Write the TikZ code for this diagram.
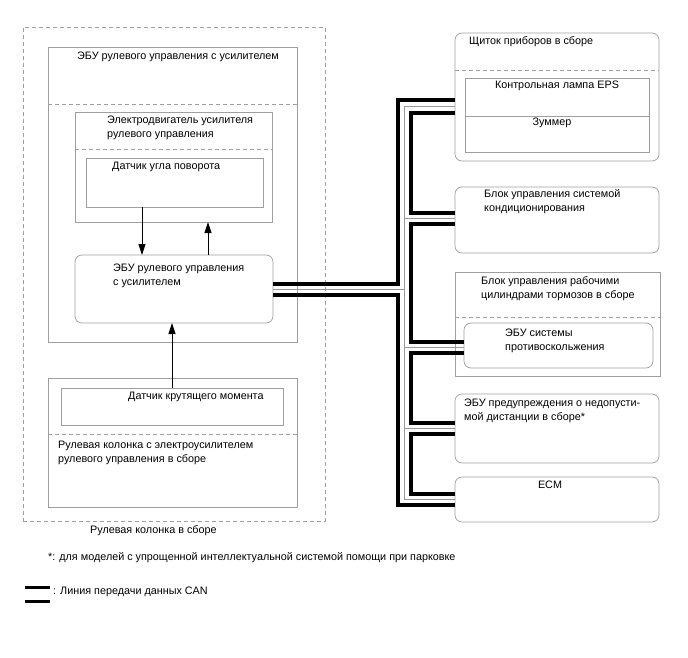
\documentclass[tikz,border=0pt]{standalone}
\usepackage{fontspec}
\setmainfont{Liberation Sans}
\usepackage{xcolor}
\usepackage{tikz}
\usetikzlibrary{arrows.meta, positioning}
\tikzset{
  frame/.style={draw=gray!75, line width=0.7pt, inner sep=0pt, outer sep=0pt, anchor=north west},
  roundframe/.style={frame, rounded corners=7pt},
  groupframe/.style={frame, dashed, dash pattern=on 4pt off 3pt},
  sepline/.style={draw=gray!75, line width=0.7pt, dashed, dash pattern=on 4pt off 3pt},
  txt/.style={font=\fontsize{10.8}{14}\selectfont, inner sep=0pt, align=left, anchor=north west},
  sigarrow/.style={-{Triangle[length=11pt, width=7pt]}, line width=0.9pt, black},
  canline/.style={line width=3.6pt, black, line join=miter},
  canmid/.style={line width=0.5pt, gray!80}
}

\begin{document}
\begin{tikzpicture}[x=1pt, y=-1pt]

\useasboundingbox (0,0) rectangle (688,658);

% --- Bus columns ---
\def\xa{398}
\def\xm{404.5}
\def\xb{411}

% --- Steering column assembly (left) ---
\node[groupframe, minimum width=302pt, minimum height=494pt] (column) at (23,27) {};
\node[txt] (columntxt) at (90,525) {Рулевая колонка в сборе};

% power steering ECU group
\node[frame, minimum width=249pt, minimum height=295pt] (ecubox) at (48,47) {};
\draw[sepline] (ecubox.west |- 0,104) -- (ecubox.east |- 0,104);
\node[txt] (ecuboxtxt) at (77,52) {ЭБУ рулевого управления с усилителем};

\node[frame, minimum width=197pt, minimum height=110pt] (motor) at (75,112) {};
\draw[sepline] (motor.west |- 0,149) -- (motor.east |- 0,149);
\node[txt] (motortxt) at (107,116) {Электродвигатель усилителя\\рулевого управления};

\node[frame, minimum width=177pt, minimum height=49pt] (angle) at (86,158) {};
\node[txt] (angletxt) at (112,162) {Датчик угла поворота};

\node[roundframe, minimum width=198pt, minimum height=68pt] (ecu) at (75,255) {};
\node[txt] (ecutxt) at (113,264) {ЭБУ рулевого управления\\с усилителем};

% column with EPS
\node[frame, minimum width=249pt, minimum height=129pt] (colbox) at (48,378) {};
\draw[sepline] (colbox.west |- 0,434) -- (colbox.east |- 0,434);
\node[txt] (colboxtxt) at (58,441) {Рулевая колонка с электроусилителем\\рулевого управления в сборе};

\node[frame, minimum width=222pt, minimum height=37pt] (torque) at (61,388) {};
\node[txt] (torquetxt) at (128,392) {Датчик крутящего момента};

% --- Signal arrows ---
\draw[sigarrow] ([xshift=-32.5pt]angle.south) -- ([xshift=-32.5pt]angle.south |- ecu.north);
\draw[sigarrow] ([xshift=34pt]ecu.north) -- ([xshift=34pt]ecu.north |- motor.south);
\draw[sigarrow] (torque.north) -- (torque.north |- ecu.south);

% --- CAN nodes (right) ---
\node[roundframe, minimum width=204pt, minimum height=128pt] (cluster) at (455,33) {};
\draw[sepline] (cluster.west |- 0,70) -- (cluster.east |- 0,70);
\node[txt] (clustertxt) at (469,36) {Щиток приборов в сборе};
\node[frame, minimum width=184pt, minimum height=74pt] (lamp) at (465,78) {};
\draw[draw=gray!75, line width=0.7pt] (lamp.west |- 0,116) -- (lamp.east |- 0,116);
\node[txt, anchor=north] (lamptxt) at (557,81) {Контрольная лампа EPS};
\node[txt, anchor=north] (buzzertxt) at (552,118) {Зуммер};

\node[roundframe, minimum width=204pt, minimum height=66pt] (ac) at (455,187) {};
\node[txt] (actxt) at (484,189) {Блок управления системой\\кондиционирования};

\node[frame, minimum width=205pt, minimum height=104pt] (brake) at (455,272) {};
\draw[sepline] (brake.west |- 0,317) -- (brake.east |- 0,317);
\node[txt] (braketxt) at (481,276) {Блок управления рабочими\\цилиндрами тормозов в сборе};
\node[roundframe, minimum width=189pt, minimum height=45pt] (antiskid) at (464,323) {};
\node[txt] (antiskidtxt) at (505,329) {ЭБУ системы\\противоскольжения};

\node[roundframe, minimum width=204pt, minimum height=69pt] (dist) at (455,394) {};
\node[txt] (disttxt) at (464,399) {ЭБУ предупреждения о недопусти-\\мой дистанции в сборе*};

\node[roundframe, minimum width=204pt, minimum height=45pt] (ecm) at (455,477) {};
\node[txt, anchor=north] (ecmtxt) at (550,481) {ECM};

% --- CAN bus: outer pair ---
\draw[canline] (ecu.east |- 0,284) -- (\xa,284) -- (\xa,100) -- (cluster.west |- 0,100);
\draw[canline] (ecu.east |- 0,295) -- (\xa,295) -- (\xa,505) -- (ecm.west |- 0,505);

% --- CAN bus: inner line, one loop per branch ---
\draw[canline] (cluster.west |- 0,113) -- (\xb,113) -- (\xb,213) -- (ac.west |- 0,213);
\draw[canline] (ac.west |- 0,224) -- (\xb,224) -- (\xb,342) -- (antiskid.west |- 0,342);
\draw[canline] (antiskid.west |- 0,353) -- (\xb,353) -- (\xb,423) -- (dist.west |- 0,423);
\draw[canline] (dist.west |- 0,434) -- (\xb,434) -- (\xb,494) -- (ecm.west |- 0,494);

% --- CAN bus: thin middle line ---
\draw[canmid] (ecu.east |- 0,289.5) -- (\xm,289.5);
\draw[canmid] (cluster.west |- 0,106.5) -- (\xm,106.5) -- (\xm,499.5) -- (ecm.west |- 0,499.5);
\draw[canmid] (\xm,218.5) -- (ac.west |- 0,218.5);
\draw[canmid] (\xm,347.5) -- (antiskid.west |- 0,347.5);
\draw[canmid] (\xm,428.5) -- (dist.west |- 0,428.5);

% --- Notes ---
\node[txt] (note) at (48,552) {*: для моделей с упрощенной интеллектуальной системой помощи при парковке};
\draw[canline] (25,587.5) -- (50,587.5);
\draw[canline] (25,601.5) -- (50,601.5);
\node[txt] (legendtxt) at (53,587) {: Линия передачи данных CAN};

\end{tikzpicture}
\end{document}
